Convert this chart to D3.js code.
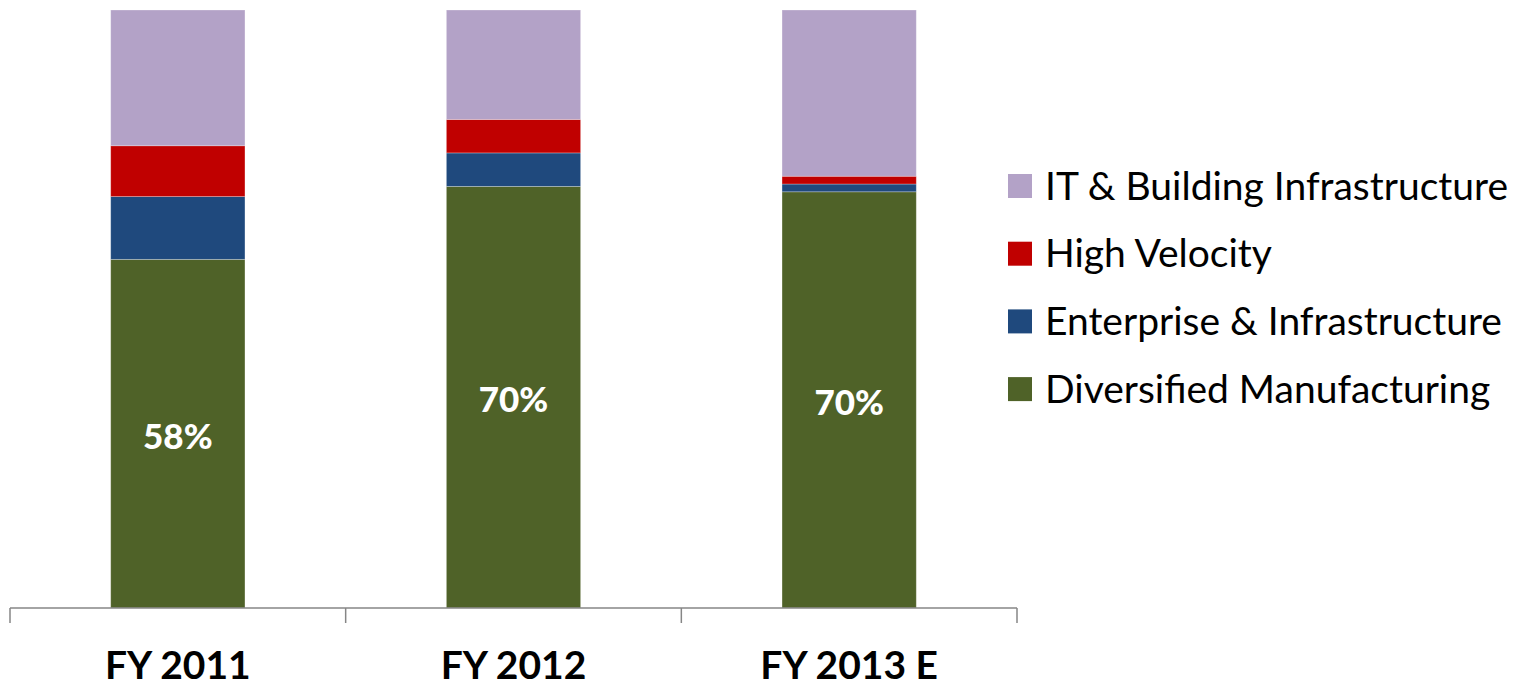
<!DOCTYPE html>
<html>
<head>
<meta charset="utf-8">
<script src="https://cdn.jsdelivr.net/npm/d3@7"></script>
<style>
  body { margin: 0; background: #fff; overflow: hidden; }
  text { font-family: Lato, "Open Sans", sans-serif; }
</style>
</head>
<body>
<div id="chart"></div>
<script>
// chart data
var years = ["FY 2011", "FY 2012", "FY 2013 E"];
var segments = ["Diversified Manufacturing", "Enterprise & Infrastructure", "High Velocity", "IT & Building Infrastructure"];
var diversified = [58.3, 70.5, 69.6];
var enterprise = [10.5, 5.6, 1.3];
var highVelocity = [8.5, 5.6, 1.3];
var itBuilding = [22.7, 18.3, 27.8];
var barLabels = ["58%", "70%", "70%"];
var colors = ["#4F6228", "#1F497D", "#C00000", "#B3A2C7"];

var width = 1531, height = 689;
var plotLeft = 10, plotRight = 1017, plotTop = 10, plotBottom = 608;

var rows = years.map(function(y, i) {
  return {
    year: y,
    "Diversified Manufacturing": diversified[i],
    "Enterprise & Infrastructure": enterprise[i],
    "High Velocity": highVelocity[i],
    "IT & Building Infrastructure": itBuilding[i]
  };
});

var svg = d3.select("#chart")
  .append("svg")
    .attr("width", width)
    .attr("height", height);

var x = d3.scaleBand()
  .domain(years)
  .range([plotLeft, plotRight])
  .paddingInner(0.6)
  .paddingOuter(0.3);

var y = d3.scaleLinear()
  .domain([0, 100])
  .range([plotBottom, plotTop]);

var color = d3.scaleOrdinal().domain(segments).range(colors);

var stacked = d3.stack().keys(segments)(rows);

// bars
svg.selectAll("g.layer")
  .data(stacked)
  .enter()
  .append("g")
    .attr("class", "layer")
    .attr("fill", function(d) { return color(d.key); })
  .selectAll("rect")
  .data(function(d) { return d; })
  .enter()
  .append("rect")
    .attr("x", function(d) { return x(d.data.year); })
    .attr("y", function(d) { return y(d[1]); })
    .attr("width", x.bandwidth())
    .attr("height", function(d) { return y(d[0]) - y(d[1]); })
    .attr("stroke", "rgba(255,255,255,0.35)")
    .attr("stroke-width", 0.8);

// percentage labels on green segment
svg.selectAll("text.pct")
  .data(stacked[0])
  .enter()
  .append("text")
    .attr("class", "pct")
    .attr("x", function(d) { return x(d.data.year) + x.bandwidth() / 2; })
    .attr("y", function(d, i) { return [437, 400, 403][i]; })
    .attr("dy", "0.35em")
    .attr("text-anchor", "middle")
    .attr("fill", "white")
    .style("font-size", "35px")
    .style("font-weight", "900")
    .text(function(d, i) { return barLabels[i]; });

// x axis with ticks between categories
var tickPos = d3.range(years.length + 1).map(function(i) { return plotLeft + i * (plotRight - plotLeft) / years.length; });
svg.append("line")
  .attr("x1", plotLeft).attr("x2", plotRight)
  .attr("y1", plotBottom).attr("y2", plotBottom)
  .attr("stroke", "#868686").attr("stroke-width", 1.5);
svg.selectAll("line.tick")
  .data(tickPos)
  .enter()
  .append("line")
    .attr("class", "tick")
    .attr("x1", function(d) { return d; }).attr("x2", function(d) { return d; })
    .attr("y1", plotBottom).attr("y2", plotBottom + 15)
    .attr("stroke", "#868686").attr("stroke-width", 1.5);

svg.selectAll("text.cat")
  .data(years)
  .enter()
  .append("text")
    .attr("class", "cat")
    .attr("x", function(d) { return x(d) + x.bandwidth() / 2; })
    .attr("y", 679)
    .attr("text-anchor", "middle")
    .attr("fill", "black")
    .style("font-size", "39px")
    .style("font-weight", "bold")
    .text(function(d) { return d; });

// legend
var legendOrder = segments.slice().reverse();
var legend = svg.selectAll("g.legend")
  .data(legendOrder)
  .enter()
  .append("g")
    .attr("class", "legend")
    .attr("transform", function(d, i) { return "translate(1008," + (186 + i * 67.7) + ")"; });

legend.append("rect")
  .attr("x", 0).attr("y", -12)
  .attr("width", 24).attr("height", 24)
  .attr("fill", function(d) { return color(d); });

legend.append("text")
  .attr("x", 37)
  .attr("y", 0)
  .attr("dy", "0.35em")
  .attr("fill", "black")
  .style("font-size", "39px")
  .text(function(d) { return d; });
</script>
</body>
</html>
